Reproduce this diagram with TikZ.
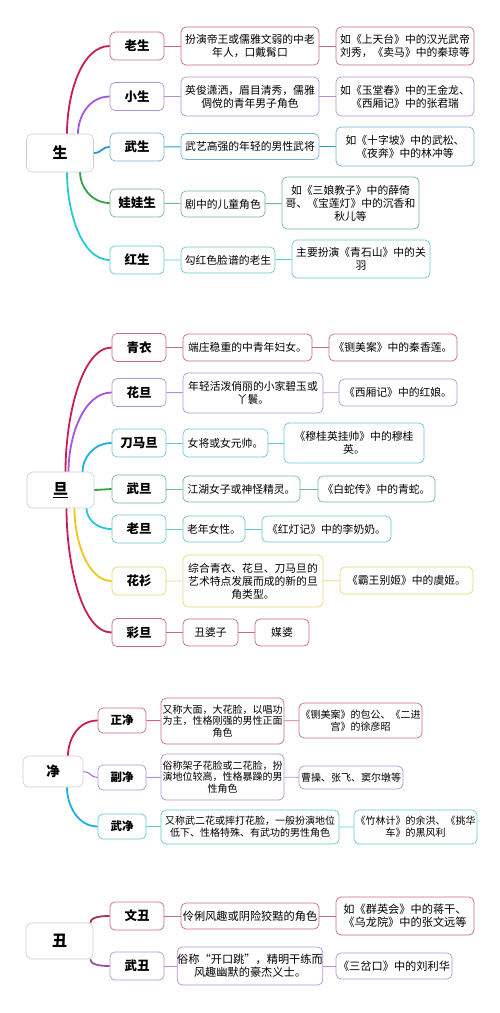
\documentclass[tikz,border=0pt]{standalone}
\usepackage{fontspec}
\setmainfont{Noto Sans CJK SC}
\usepackage{tikz}

\definecolor{rootln}{RGB}{205,205,205}
\definecolor{rosebr}{RGB}{200,30,85}
\definecolor{roseln}{RGB}{200,105,140}
\definecolor{violbr}{RGB}{165,85,225}
\definecolor{violln}{RGB}{180,145,215}
\definecolor{bluebr}{RGB}{45,150,210}
\definecolor{blueln}{RGB}{110,180,210}
\definecolor{skybr}{RGB}{30,175,230}
\definecolor{skyln}{RGB}{110,195,225}
\definecolor{greenbr}{RGB}{55,160,70}
\definecolor{greenln}{RGB}{110,185,150}
\definecolor{cyanbr}{RGB}{40,200,215}
\definecolor{cyanln}{RGB}{100,200,205}
\definecolor{yellowbr}{RGB}{240,200,20}
\definecolor{yellowln}{RGB}{230,215,110}
\definecolor{maroonbr}{RGB}{170,45,95}
\definecolor{plumbr}{RGB}{150,80,170}

\tikzset{
  rootbox/.style = {draw = rootln, fill = white, rounded corners = 6pt, line width = 0.6pt,
    inner sep = 0pt, font = \fontsize{15}{18}\selectfont\bfseries},
  rolebox/.style = {fill = white, rounded corners = 5pt, line width = 0.7pt, inner sep = 0pt,
    minimum width = 54pt, minimum height = 28pt, font = \fontsize{12.5}{15}\selectfont\bfseries},
  infobox/.style = {fill = white, rounded corners = 5pt, line width = 0.7pt, inner sep = 0pt,
    align = center, font = \fontsize{10.8}{13}\selectfont},
  branch/.style = {line width = 1.8pt},
  twig/.style = {line width = 0.9pt}
}

\begin{document}
\begin{tikzpicture}[x = 1pt, y = -1pt]
      \useasboundingbox (0, 0) rectangle (500, 1013);

      % 生
      \node [rootbox, minimum width = 67pt, minimum height = 38pt] (s) at (60, 153) {生};
      \node [rolebox, draw = roseln] (s1) at (137, 46) {老生};
      \node [infobox, draw = roseln, minimum width = 138pt, minimum height = 38pt] (s1d) at (250, 46)
        {扮演帝王或儒雅文弱的中老\\年人，口戴髯口};
      \node [infobox, draw = roseln, minimum width = 138pt, minimum height = 38pt] (s1e) at (405, 46)
        {如《上天台》中的汉光武帝\\刘秀，《卖马》中的秦琼等};
      \node [rolebox, draw = violln] (s2) at (137, 96.5) {小生};
      \node [infobox, draw = violln, minimum width = 138pt, minimum height = 39pt] (s2d) at (250, 96.5)
        {英俊潇洒，眉目清秀，儒雅\\倜傥的青年男子角色};
      \node [infobox, draw = violln, minimum width = 138pt, minimum height = 39pt] (s2e) at (405, 96.5)
        {如《玉堂春》中的王金龙、\\《西厢记》中的张君瑞};
      \node [rolebox, draw = blueln] (s3) at (137, 147) {武生};
      \node [infobox, draw = blueln, minimum width = 138pt, minimum height = 26pt] (s3d) at (250, 146.5)
        {武艺高强的年轻的男性武将};
      \node [infobox, draw = blueln, minimum width = 138pt, minimum height = 39pt] (s3e) at (405, 146.5)
        {如《十字坡》中的武松、\\《夜奔》中的林冲等};
      \node [rolebox, draw = greenln] (s4) at (137, 203) {娃娃生};
      \node [infobox, draw = greenln, minimum width = 84pt, minimum height = 26pt] (s4d) at (223, 204)
        {剧中的儿童角色};
      \node [infobox, draw = greenln, minimum width = 137pt, minimum height = 52pt] (s4e) at (350.5, 203)
        {如《三娘教子》中的薛倚\\哥、《宝莲灯》中的沉香和\\秋儿等};
      \node [rolebox, draw = cyanln] (s5) at (137, 260) {红生};
      \node [infobox, draw = cyanln, minimum width = 94pt, minimum height = 26pt] (s5d) at (228, 260)
        {勾红色脸谱的老生};
      \node [infobox, draw = cyanln, minimum width = 138pt, minimum height = 38pt] (s5e) at (361, 259)
        {主要扮演《青石山》中的关\\羽};

      \draw [branch, rosebr] ([xshift = 7pt]s.north) .. controls ([yshift = 40pt]67, 134) and ([xshift = -28pt]s1.west) .. (s1.west);
      \draw [branch, violbr] ([xshift = 18pt]s.north) .. controls ([yshift = 18pt]78, 134) and ([xshift = -20pt]s2.west) .. (s2.west);
      \draw [branch, bluebr] (s.east) .. controls ([xshift = 8pt]s.east) and ([xshift = -8pt]s3.west) .. (s3.west);
      \draw [branch, greenbr] ([xshift = 20pt]s.south) .. controls ([yshift = -15pt]80, 172) and ([xshift = -18pt]s4.west) .. (s4.west);
      \draw [branch, cyanbr] ([xshift = 7pt]s.south) .. controls ([yshift = -40pt]67, 172) and ([xshift = -28pt]s5.west) .. (s5.west);
      \draw [twig, roseln] (s1) -- (s1d) -- (s1e);
      \draw [twig, violln] (s2) -- (s2d) -- (s2e);
      \draw [twig, bluebr] (s3) -- (s3d) -- (s3e);
      \draw [twig, greenln] (s4) -- (s4d) -- (s4e);
      \draw [twig, cyanln] (s5) -- (s5d) -- (s5e);

      % 旦
      \node [rootbox, minimum width = 67pt, minimum height = 36pt] (d) at (60.5, 490) {\underline{旦}};
      \node [rolebox, draw = roseln] (d1) at (139, 347.5) {青衣};
      \node [infobox, draw = roseln, minimum width = 129pt, minimum height = 27pt] (d1d) at (247.5, 347.5)
        {端庄稳重的中青年妇女。};
      \node [infobox, draw = roseln, minimum width = 128pt, minimum height = 27pt] (d1e) at (393, 347.5)
        {《铡美案》中的秦香莲。};
      \node [rolebox, draw = violln] (d2) at (139, 392.5) {花旦};
      \node [infobox, draw = violln, minimum width = 140pt, minimum height = 40pt] (d2d) at (253, 393)
        {年轻活泼俏丽的小家碧玉或\\丫鬟。};
      \node [infobox, draw = violln, minimum width = 118pt, minimum height = 27pt] (d2e) at (398, 392.5)
        {《西厢记》中的红娘。};
      \node [rolebox, draw = skyln] (d3) at (139, 443) {刀马旦};
      \node [infobox, draw = skyln, minimum width = 85pt, minimum height = 28pt] (d3d) at (225.5, 443)
        {女将或女元帅。};
      \node [infobox, draw = skyln, minimum width = 140pt, minimum height = 40pt] (d3e) at (354, 443)
        {《穆桂英挂帅》中的穆桂\\英。};
      \node [rolebox, draw = greenln] (d4) at (139, 489) {武旦};
      \node [infobox, draw = greenln, minimum width = 117pt, minimum height = 26pt] (d4d) at (241.5, 489)
        {江湖女子或神怪精灵。};
      \node [infobox, draw = greenln, minimum width = 117pt, minimum height = 26pt] (d4e) at (376.5, 489)
        {《白蛇传》中的青蛇。};
      \node [rolebox, draw = cyanln] (d5) at (139, 529) {老旦};
      \node [infobox, draw = cyanln, minimum width = 62pt, minimum height = 26pt] (d5d) at (214, 529)
        {老年女性。};
      \node [infobox, draw = cyanln, minimum width = 129pt, minimum height = 26pt] (d5e) at (326.5, 529)
        {《红灯记》中的李奶奶。};
      \node [rolebox, draw = yellowln] (d6) at (139, 581) {花衫};
      \node [infobox, draw = yellowln, minimum width = 140pt, minimum height = 52pt] (d6d) at (253, 581)
        {综合青衣、花旦、刀马旦的\\艺术特点发展而成的新的旦\\角类型。};
      \node [infobox, draw = yellowln, minimum width = 133pt, minimum height = 27pt] (d6e) at (406.5, 580.5)
        {《霸王别姬》中的虞姬。};
      \node [rolebox, draw = roseln] (d7) at (139, 632.5) {彩旦};
      \node [infobox, draw = roseln, minimum width = 55pt, minimum height = 27pt] (d7d) at (210.5, 632.5)
        {丑婆子};
      \node [infobox, draw = roseln, minimum width = 54pt, minimum height = 27pt] (d7e) at (282, 632.5)
        {媒婆};

      \draw [branch, rosebr] ([xshift = 5pt]d.north) .. controls ([yshift = 55pt]65.5, 472) and ([xshift = -30pt]d1.west) .. (d1.west);
      \draw [branch, violbr] ([xshift = 8pt]d.north) .. controls ([yshift = 36pt]68.5, 472) and ([xshift = -28pt]d2.west) .. (d2.west);
      \draw [branch, skybr] ([xshift = 22pt]d.north) .. controls ([yshift = 14pt]82.5, 472) and ([xshift = -18pt]d3.west) .. (d3.west);
      \draw [branch, greenbr] (d.east) .. controls ([xshift = 8pt]d.east) and ([xshift = -8pt]d4.west) .. (d4.west);
      \draw [branch, cyanbr] ([xshift = 26pt]d.south) .. controls ([yshift = -10pt]86.5, 508) and ([xshift = -16pt]d5.west) .. (d5.west);
      \draw [branch, yellowbr] ([xshift = 14pt]d.south) .. controls ([yshift = -33pt]74.5, 508) and ([xshift = -24pt]d6.west) .. (d6.west);
      \draw [branch, rosebr] ([xshift = 6pt]d.south) .. controls ([yshift = -55pt]66.5, 508) and ([xshift = -30pt]d7.west) .. (d7.west);
      \draw [twig, roseln] (d1) -- (d1d) -- (d1e);
      \draw [twig, violln] (d2) -- (d2d) -- (d2e);
      \draw [twig, skyln] (d3) -- (d3d) -- (d3e);
      \draw [twig, greenln] (d4) -- (d4d) -- (d4e);
      \draw [twig, cyanln] (d5) -- (d5d) -- (d5e);
      \draw [twig, yellowln] (d6) -- (d6d) -- (d6e);
      \draw [twig, roseln] (d7) -- (d7d) -- (d7e);

      % 净
      \begin{scope}[rolebox/.append style = {minimum width = 48pt, minimum height = 25pt, font = \fontsize{11.5}{14}\selectfont\bfseries},
                    infobox/.append style = {font = \fontsize{10}{11.7}\selectfont}]
        \node [rootbox, minimum width = 60pt, minimum height = 31pt, font = \fontsize{13.5}{16}\selectfont\bfseries] (j) at (53, 771.5) {净};
        \node [rolebox, draw = roseln] (j1) at (122, 720.5) {正净};
        \node [infobox, draw = roseln, minimum width = 123pt, minimum height = 46pt] (j1d) at (222.5, 721)
          {又称大面，大花脸，以唱功\\为主，性格刚强的男性正面\\角色};
        \node [infobox, draw = roseln, minimum width = 123pt, minimum height = 35pt] (j1e) at (360.5, 720.5)
          {《铡美案》的包公、《二进\\宫》的徐彦昭};
        \node [rolebox, draw = violln] (j2) at (122, 777.5) {副净};
        \node [infobox, draw = violln, minimum width = 123pt, minimum height = 46pt] (j2d) at (222.5, 777)
          {俗称架子花脸或二花脸，扮\\演地位较高，性格暴躁的男\\性角色};
        \node [infobox, draw = violln, minimum width = 104pt, minimum height = 23pt] (j2e) at (351, 777.5)
          {曹操、张飞、窦尔墩等};
        \node [rolebox, draw = cyanln] (j3) at (122, 826.5) {武净};
        \node [infobox, draw = cyanln, minimum width = 178pt, minimum height = 34pt] (j3d) at (250, 827)
          {又称武二花或摔打花脸，一般扮演地位\\低下、性格特殊、有武功的男性角色};
        \node [infobox, draw = cyanln, minimum width = 123pt, minimum height = 34pt] (j3e) at (415.5, 827)
          {《竹林计》的余洪、《挑华\\车》的黑风利};
      \end{scope}

      \draw [branch, rosebr] ([xshift = 15pt]j.north) .. controls ([yshift = 16pt]68, 756) and ([xshift = -20pt]j1.west) .. (j1.west);
      \draw [twig, violbr] (j.east) .. controls ([xshift = 7pt]j.east) and ([xshift = -7pt]j2.west) .. (j2.west);
      \draw [branch, skybr] ([xshift = 14pt]j.south) .. controls ([yshift = -18pt]67, 787) and ([xshift = -20pt]j3.west) .. (j3.west);
      \draw [twig, roseln] (j1) -- (j1d) -- (j1e);
      \draw [twig, violln] (j2) -- (j2d) -- (j2e);
      \draw [twig, cyanln] (j3) -- (j3d) -- (j3e);

      % 丑
      \begin{scope}[infobox/.append style = {font = \fontsize{11.2}{13}\selectfont}]
        \node [rootbox, minimum width = 67pt, minimum height = 36pt] (c) at (59.5, 941) {丑};
        \node [rolebox, draw = roseln] (c1) at (137, 916) {文丑};
        \node [infobox, draw = roseln, minimum width = 138pt, minimum height = 26pt] (c1d) at (250, 916)
          {伶俐风趣或阴险狡黠的角色};
        \node [infobox, draw = roseln, minimum width = 138pt, minimum height = 38pt] (c1e) at (405, 916)
          {如《群英会》中的蒋干、\\《乌龙院》中的张文远等};
        \node [rolebox, draw = violln] (c2) at (137, 966) {武丑};
        \node [infobox, draw = violln, minimum width = 138pt, minimum height = 38pt] (c2d) at (250, 966)
          {俗称“开口跳”，精明干练而\\风趣幽默的豪杰义士。};
        \node [infobox, draw = violln, minimum width = 116pt, minimum height = 26pt] (c2e) at (394, 966)
          {《三岔口》中的刘利华};
      \end{scope}

      \draw [branch, maroonbr] ([xshift = -3pt]c.north east) .. controls ([yshift = 5pt]90.5, 923) and ([xshift = -12pt]c1.west) .. (c1.west);
      \draw [branch, plumbr] ([xshift = -3pt]c.south east) .. controls ([yshift = -5pt]90.5, 959) and ([xshift = -12pt]c2.west) .. (c2.west);
      \draw [twig, roseln] (c1) -- (c1d) -- (c1e);
      \draw [twig, violln] (c2) -- (c2d) -- (c2e);
    \end{tikzpicture}
\end{document}
